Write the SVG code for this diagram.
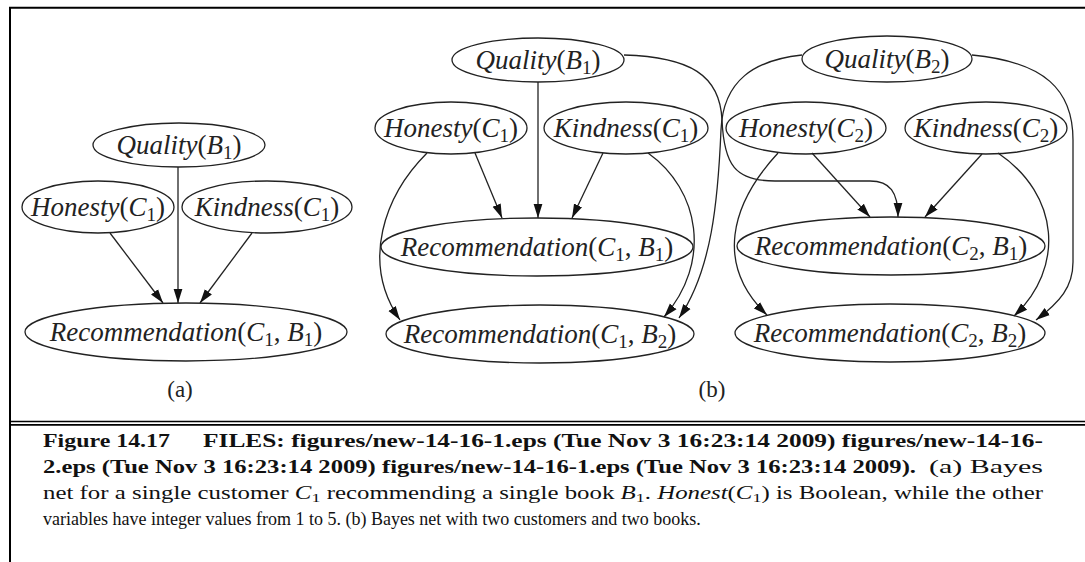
<svg xmlns="http://www.w3.org/2000/svg" width="1085" height="562" viewBox="0 0 1085 562">
<style>
.nd{fill:none;stroke:#222;stroke-width:1.3}
.lb{font-family:"Liberation Serif",serif;font-size:27px;text-anchor:middle;fill:#222}
.i{font-style:italic}
.s{font-size:19px}
.ed{fill:none;stroke:#222;stroke-width:1.3;marker-end:url(#ah)}
.fr{stroke:#000;stroke-width:2;fill:none}
.cap{font-family:"Liberation Serif",serif;font-size:18px;fill:#111}
.b{font-weight:bold}
.pl{font-family:"Liberation Serif",serif;font-size:23px;text-anchor:middle;fill:#222}
</style>
<defs>
<marker id="ah" markerUnits="userSpaceOnUse" markerWidth="15" markerHeight="10" refX="14" refY="5" orient="auto"><path d="M0,0.6 L14,5 L0,9.4 z" fill="#111"/></marker>
</defs>
<rect width="1085" height="562" fill="#fff"/>
<g id="frame">
<path class="fr" d="M10,562 L10,7.7 L1085,7.7"/>
<path class="fr" d="M10,421.5 L1085,421.5 M10,424.8 L1085,424.8" style="stroke-width:1.7"/>
</g>
<g id="connectors">
<path class="ed" d="M178,167 L178,303"/>
<path class="ed" d="M110,233 L163,303"/>
<path class="ed" d="M252,233 L200,303"/>
<path class="ed" d="M538,82 L538,218"/>
<path class="ed" d="M475,153 L502,218"/>
<path class="ed" d="M603,153 L572,218"/>
<path class="ed" d="M427,153 C385,195 360,262 400,320"/>
<path class="ed" d="M648,153 C700,190 712,262 664,317"/>
<path class="ed" d="M802,55 C755,60 723,80 721,130 C718,200 712,270 679,318"/>
<path class="ed" d="M624,55 C690,57 720,75 722,120 C724,165 735,181 775,181 L870,181 C890,181 898,192 898,217"/>
<path class="ed" d="M812,153 L870,217"/>
<path class="ed" d="M982,154 L925,217"/>
<path class="ed" d="M778,153 C730,205 715,265 767,315"/>
<path class="ed" d="M998,153 C1060,195 1065,268 1014,316"/>
<path class="ed" d="M972,55 C1045,62 1073,90 1073,140 L1073,262 C1073,287 1060,302 1036,320"/>
</g>
<g id="qa"><ellipse class="nd" cx="179" cy="145" rx="86" ry="22"/><text class="lb" x="179" y="154"><tspan class="i">Quality</tspan>(<tspan class="i">B</tspan><tspan class="s" dy="5">1</tspan><tspan dy="-5">)</tspan></text></g>
<g id="ha"><ellipse class="nd" cx="98" cy="207" rx="76" ry="26"/><text class="lb" x="98" y="216"><tspan class="i">Honesty</tspan>(<tspan class="i">C</tspan><tspan class="s" dy="5">1</tspan><tspan dy="-5">)</tspan></text></g>
<g id="ka"><ellipse class="nd" cx="267" cy="207" rx="85" ry="26"/><text class="lb" x="267" y="216"><tspan class="i">Kindness</tspan>(<tspan class="i">C</tspan><tspan class="s" dy="5">1</tspan><tspan dy="-5">)</tspan></text></g>
<g id="ra"><ellipse class="nd" cx="186" cy="332" rx="161" ry="29"/><text class="lb" x="186" y="341"><tspan class="i">Recommendation</tspan>(<tspan class="i">C</tspan><tspan class="s" dy="5">1</tspan><tspan dy="-5">, </tspan><tspan class="i">B</tspan><tspan class="s" dy="5">1</tspan><tspan dy="-5">)</tspan></text></g>
<g id="qb1"><ellipse class="nd" cx="538" cy="60" rx="86" ry="22"/><text class="lb" x="538" y="69"><tspan class="i">Quality</tspan>(<tspan class="i">B</tspan><tspan class="s" dy="5">1</tspan><tspan dy="-5">)</tspan></text></g>
<g id="hc1"><ellipse class="nd" cx="451" cy="128" rx="76" ry="26"/><text class="lb" x="451" y="137"><tspan class="i">Honesty</tspan>(<tspan class="i">C</tspan><tspan class="s" dy="5">1</tspan><tspan dy="-5">)</tspan></text></g>
<g id="kc1"><ellipse class="nd" cx="626" cy="128" rx="82" ry="26"/><text class="lb" x="626" y="137"><tspan class="i">Kindness</tspan>(<tspan class="i">C</tspan><tspan class="s" dy="5">1</tspan><tspan dy="-5">)</tspan></text></g>
<g id="r11"><ellipse class="nd" cx="537" cy="247" rx="156" ry="29"/><text class="lb" x="537" y="256"><tspan class="i">Recommendation</tspan>(<tspan class="i">C</tspan><tspan class="s" dy="5">1</tspan><tspan dy="-5">, </tspan><tspan class="i">B</tspan><tspan class="s" dy="5">1</tspan><tspan dy="-5">)</tspan></text></g>
<g id="r12"><ellipse class="nd" cx="540" cy="334" rx="154" ry="29"/><text class="lb" x="540" y="343"><tspan class="i">Recommendation</tspan>(<tspan class="i">C</tspan><tspan class="s" dy="5">1</tspan><tspan dy="-5">, </tspan><tspan class="i">B</tspan><tspan class="s" dy="5">2</tspan><tspan dy="-5">)</tspan></text></g>
<g id="qb2"><ellipse class="nd" cx="887" cy="59" rx="85" ry="23"/><text class="lb" x="887" y="68"><tspan class="i">Quality</tspan>(<tspan class="i">B</tspan><tspan class="s" dy="5">2</tspan><tspan dy="-5">)</tspan></text></g>
<g id="hc2"><ellipse class="nd" cx="806" cy="128" rx="80" ry="26"/><text class="lb" x="806" y="137"><tspan class="i">Honesty</tspan>(<tspan class="i">C</tspan><tspan class="s" dy="5">2</tspan><tspan dy="-5">)</tspan></text></g>
<g id="kc2"><ellipse class="nd" cx="986" cy="128" rx="81" ry="26"/><text class="lb" x="986" y="137"><tspan class="i">Kindness</tspan>(<tspan class="i">C</tspan><tspan class="s" dy="5">2</tspan><tspan dy="-5">)</tspan></text></g>
<g id="r21"><ellipse class="nd" cx="891" cy="246" rx="154" ry="29"/><text class="lb" x="891" y="255"><tspan class="i">Recommendation</tspan>(<tspan class="i">C</tspan><tspan class="s" dy="5">2</tspan><tspan dy="-5">, </tspan><tspan class="i">B</tspan><tspan class="s" dy="5">1</tspan><tspan dy="-5">)</tspan></text></g>
<g id="r22"><ellipse class="nd" cx="890" cy="333" rx="155" ry="29"/><text class="lb" x="890" y="342"><tspan class="i">Recommendation</tspan>(<tspan class="i">C</tspan><tspan class="s" dy="5">2</tspan><tspan dy="-5">, </tspan><tspan class="i">B</tspan><tspan class="s" dy="5">2</tspan><tspan dy="-5">)</tspan></text></g>
<g id="panel-labels">
<text class="pl" x="180" y="397">(a)</text>
<text class="pl" x="712" y="397">(b)</text>
</g>
<g id="caption">
<text class="cap b" x="43" y="447" textLength="127" lengthAdjust="spacingAndGlyphs">Figure 14.17</text>
<text class="cap b" x="203" y="447" textLength="840" lengthAdjust="spacingAndGlyphs">FILES: figures/new-14-16-1.eps (Tue Nov 3 16:23:14 2009) figures/new-14-16-</text>
<text class="cap b" x="43" y="473" textLength="873" lengthAdjust="spacingAndGlyphs">2.eps (Tue Nov 3 16:23:14 2009) figures/new-14-16-1.eps (Tue Nov 3 16:23:14 2009).</text>
<text class="cap" x="929" y="473" textLength="114" lengthAdjust="spacingAndGlyphs">(a) Bayes</text>
<text class="cap" x="43" y="499" textLength="1000" lengthAdjust="spacingAndGlyphs">net for a single customer <tspan class="i">C</tspan><tspan font-size="13" dy="3">1</tspan><tspan dy="-3"> recommending a single book </tspan><tspan class="i">B</tspan><tspan font-size="13" dy="3">1</tspan><tspan dy="-3">. </tspan><tspan class="i">Honest</tspan>(<tspan class="i">C</tspan><tspan font-size="13" dy="3">1</tspan><tspan dy="-3">) is Boolean, while the other</tspan></text>
<text class="cap" x="43" y="525">variables have integer values from 1 to 5. (b) Bayes net with two customers and two books.</text>
</g>
</svg>
